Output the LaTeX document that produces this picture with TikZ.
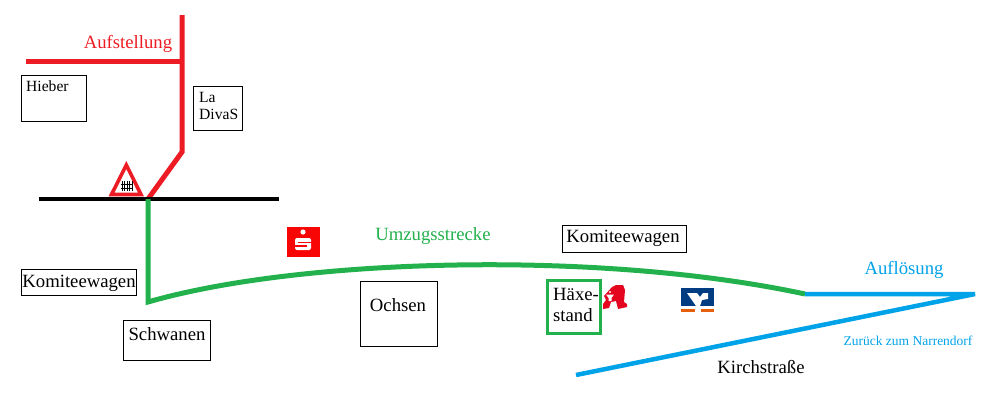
\documentclass[tikz,border=0pt]{standalone}
\usepackage{fontspec}
\setmainfont{Liberation Serif}
\definecolor{umzugred}{RGB}{237,28,36}
\definecolor{umzuggreen}{RGB}{34,177,76}
\definecolor{umzugblue}{RGB}{0,162,232}
\definecolor{sparred}{RGB}{248,5,5}
\definecolor{apored}{RGB}{227,6,30}
\definecolor{vrblue}{RGB}{0,60,130}
\definecolor{vrorange}{RGB}{230,95,10}
\tikzset{
  house/.style={draw, line width=1pt, inner sep=0pt, anchor=north west},
  big/.style={font=\fontsize{18.7}{21}\selectfont, inner sep=0pt},
  tiny/.style={font=\fontsize{15.6}{17}\selectfont, inner sep=0pt, align=left},
  redline/.style={draw=umzugred, line width=5pt},
  greenline/.style={draw=umzuggreen, line width=5pt},
  blueline/.style={draw=umzugblue, line width=4.5pt}
}
\begin{document}
\begin{tikzpicture}[x=1pt, y=-1pt]
                \useasboundingbox (0,0) rectangle (1002,416);

                \coordinate (W) at (26,61);
                \coordinate (J) at (182,61);
                \coordinate (N) at (182,15);
                \coordinate (K) at (182,152);
                \coordinate (X) at (148,199);
                \coordinate (Bl) at (39,199);
                \coordinate (Br) at (279,199);
                \coordinate (G) at (148,302);
                \coordinate (E) at (805,294);
                \coordinate (T) at (975,294);
                \coordinate (R) at (576,375);

                \node[house, minimum width=65pt, minimum height=46pt] (Hieber) at (21,75) {};
                \node[house, minimum width=49pt, minimum height=44pt] (Diva) at (193,86) {};
                \node[house, minimum width=115pt, minimum height=26pt] (KomL) at (21,269) {};
                \node[house, minimum width=87pt, minimum height=40pt] (Schwanen) at (123,320) {};
                \node[house, minimum width=77pt, minimum height=65pt] (Ochsen) at (360,281) {};
                \node[house, minimum width=124pt, minimum height=27pt] (KomR) at (562,225) {};
                \node[house, draw=umzuggreen, line width=3pt, minimum width=53pt, minimum height=53pt] (Haxe) at (546,279) {};

                \node[tiny, anchor=west] at (26,86) {Hieber};
                \node[tiny, anchor=north west] at (199,92) {La\\DivaS};
                \node[big] at (79,283) {Komiteewagen};
                \node[big] at (167,334) {Schwanen};
                \node[big] at (398,305) {Ochsen};
                \node[big] at (623,238) {Komiteewagen};
                \node[big, align=left, anchor=north west] at (553,288) {Häxe-\\stand};

                \node[big, text=umzugred] (Auf) at (128,44) {Aufstellung};
                \node[big, text=umzuggreen] (Zug) at (433,236) {Umzugsstrecke};
                \node[big, text=umzugblue] (Los) at (904,270) {Auflösung};
                \node[big] (Kirch) at (761,367) {Kirchstraße};
                \node[text=umzugblue, font=\fontsize{13.5}{15}\selectfont, inner sep=0pt] (Zur) at (908,341) {Zurück zum Narrendorf};

                \draw[redline] (W) -- (J);
                \draw[redline, line join=miter] (N) -- (K) -- (X);
                \draw[black, line width=4pt] (Bl) -- (Br);
                \draw[greenline] (X) -- (G) .. controls (300,258) and (600,250) .. (E);
                \draw[blueline] (E) -- (T) -- (R);

                % Warnschild
                \draw[umzugred, line width=3.6pt, fill=white, line join=miter] (126.3,165) -- (111.5,194.5) -- (141,194.5) -- cycle;
                \foreach \x in {122,124.5,127,129.5,132}
                    \draw[black, line width=1pt] (\x,181) -- (\x,191);
                \draw[black, line width=1pt] (120.5,184) -- (133,184);
                \draw[black, line width=1pt] (120.5,188) -- (133,188);

                % Sparkasse
                \fill[sparred] (287,227) rectangle (320,257);
                \fill[white] (303,232) circle (2.6);
                \fill[white, rounded corners=2pt] (295,238) rectangle (311,250);
                \fill[sparred] (298,241.5) rectangle (311.5,243.3);
                \fill[sparred] (294.5,245) rectangle (307,246.8);

                % Apotheke
                \fill[apored] (603,309) -- (603,304) -- (606,300) -- (604,296) -- (612,287) -- (616,285) -- (623,285) -- (625,290) -- (624,302) -- (627,304) -- (627,307) -- (618,309) -- (616,301) -- (611,302) -- (609,308) -- cycle;
                \fill[white] (606,294.5) -- (614,294.5) -- (611.5,298) -- (611.5,301) -- (608.5,301) -- (608.5,298) -- cycle;
                \fill[white] (610,292) circle (1.2);

                % Volksbank
                \fill[vrblue] (681,288) rectangle (714,306);
                \fill[white] (687,293) -- (697,293) -- (700,297) -- (703,293) -- (708,293) -- (708,299) -- (702,300) -- (700,306) -- (696,306) -- cycle;
                \fill[vrorange] (681,309) rectangle (695,312);
                \fill[vrorange] (701,309) rectangle (714,312);
            \end{tikzpicture}
\end{document}
